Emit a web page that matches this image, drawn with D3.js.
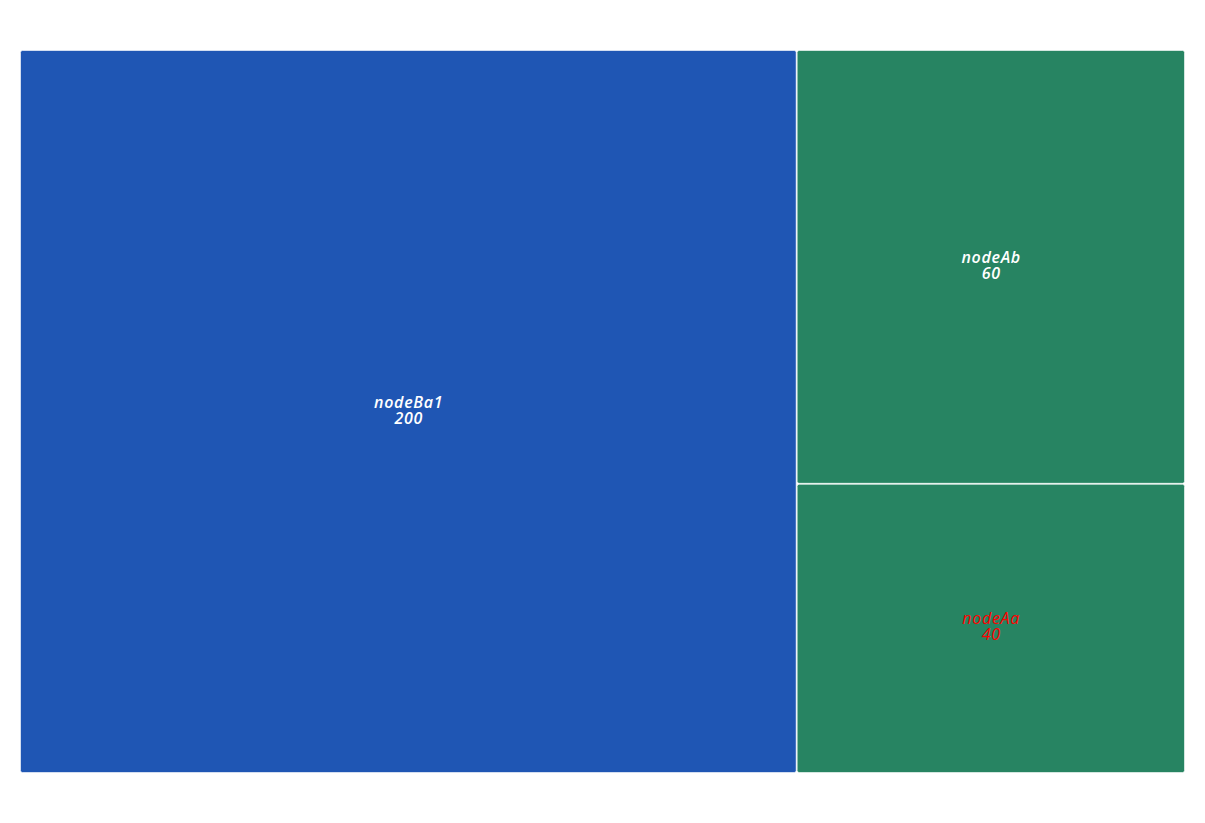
<!DOCTYPE html>
<html><head><meta charset="utf-8">
<script src="https://cdn.jsdelivr.net/npm/d3@7"></script>
<style>body{margin:0;background:#fff;} svg{display:block;}</style>
</head><body>
<svg id="chart" width="1205" height="823"></svg>
<script>
const groups = ["nodeB", "nodeA"];
const groupColors = ["#1f56b4", "#278462"];
const leafNames = ["nodeBa1", "nodeAb", "nodeAa"];
const leafGroups = ["nodeB", "nodeA", "nodeA"];
const leafValues = [200, 60, 40];
const labelColors = ["#ffffff", "#ffffff", "#ff0000"];
const labelWeights = [600, 600, 400];

const W = 1205, H = 823;
const margin = {left: 20, top: 50, right: 20, bottom: 50};

const data = {
  name: "root",
  children: groups.map(g => ({
    name: g,
    children: leafNames.map((n, i) => ({name: n, value: leafValues[i], group: leafGroups[i], idx: i}))
      .filter(d => d.group === g)
  }))
};

const root = d3.hierarchy(data).sum(d => d.value || 0).sort((a, b) => b.value - a.value);
d3.treemap()
  .size([W - margin.left - margin.right, H - margin.top - margin.bottom])
  .tile(d3.treemapSquarify)
  .round(false)(root);

const color = d3.scaleOrdinal().domain(groups).range(groupColors);
const svg = d3.select("#chart");
const g = svg.append("g").attr("transform", `translate(${margin.left},${margin.top})`);

const leaves = g.selectAll("g.leaf").data(root.leaves()).join("g").attr("class", "leaf");
leaves.append("rect")
  .attr("x", d => d.x0 + 0.5).attr("y", d => d.y0 + 0.5)
  .attr("width", d => d.x1 - d.x0 - 1).attr("height", d => d.y1 - d.y0 - 1)
  .attr("rx", 2).attr("ry", 2)
  .attr("fill", d => color(d.data.group))
  .attr("stroke", "rgba(255,255,255,0.6)").attr("stroke-width", 1);

const ls = 0.7;
const txt = leaves.append("text")
  .attr("text-anchor", "middle")
  .attr("font-family", "'Open Sans', 'Noto Sans', sans-serif")
  .attr("font-style", "italic")
  .attr("font-size", 16)
  .attr("letter-spacing", ls)
  .attr("font-weight", d => labelWeights[d.data.idx])
  .attr("fill", d => labelColors[d.data.idx]);
txt.append("tspan")
  .attr("x", d => (d.x0 + d.x1) / 2 + ls / 2)
  .attr("y", d => (d.y0 + d.y1) / 2 - 4)
  .text(d => d.data.name);
txt.append("tspan")
  .attr("x", d => (d.x0 + d.x1) / 2 + ls / 2)
  .attr("y", d => (d.y0 + d.y1) / 2 + 12)
  .text(d => d.value);
</script>
</body></html>
